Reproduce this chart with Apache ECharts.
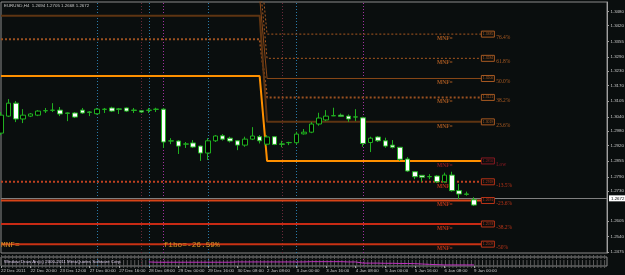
<!DOCTYPE html>
<html>
<head>
<meta charset="utf-8">
<script src="https://cdn.jsdelivr.net/npm/echarts@6/dist/echarts.min.js"></script>
<style>
html, body { margin: 0; padding: 0; background: #0a0e0e; }
#chart { width: 625px; height: 275px; }
</style>
</head>
<body>
<div id="chart"></div>
<script>
// EURUSD H4, one entry per bar
const timeLabels = ['22 Dec 2011', '22 Dec 20:00', '23 Dec 12:00', '27 Dec 00:00', '27 Dec 16:00', '28 Dec 08:00',
  '29 Dec 00:00', '29 Dec 16:00', '30 Dec 08:00', '2 Jan 08:00', '3 Jan 00:00', '3 Jan 16:00', '4 Jan 08:00',
  '5 Jan 00:00', '5 Jan 16:00', '6 Jan 08:00', '9 Jan 00:00']
const opens  = [1.2972, 1.3043, 1.3097, 1.3031, 1.3043, 1.3047, 1.3065, 1.3067, 1.3068, 1.3056, 1.3056, 1.3068, 1.3060,
  1.3053, 1.3071, 1.3077, 1.3073, 1.3077, 1.3068, 1.3065, 1.3067, 1.3071, 1.3072, 1.2939, 1.2939, 1.2926, 1.2931, 1.2918,
  1.2889, 1.2940, 1.2961, 1.2951, 1.2940, 1.2922, 1.2947, 1.2957, 1.2926, 1.2957, 1.2927, 1.2932, 1.2932, 1.2969, 1.2976,
  1.3010, 1.3027, 1.3044, 1.3047, 1.3043, 1.3039, 1.3036, 1.2933, 1.2956, 1.2940, 1.2922, 1.2913, 1.2864, 1.2811, 1.2796,
  1.2790, 1.2793, 1.2769, 1.2797, 1.2732, 1.2718, 1.2694]
const highs  = [1.3060, 1.3114, 1.3106, 1.3072, 1.3056, 1.3068, 1.3077, 1.3097, 1.3081, 1.3058, 1.3060, 1.3077, 1.3064,
  1.3077, 1.3077, 1.3082, 1.3077, 1.3079, 1.3077, 1.3068, 1.3077, 1.3078, 1.3077, 1.2951, 1.2943, 1.2935, 1.2943, 1.2920,
  1.2951, 1.2964, 1.2968, 1.2957, 1.2943, 1.2957, 1.2997, 1.2964, 1.2964, 1.2960, 1.2940, 1.2936, 1.2978, 1.2989, 1.3018,
  1.3057, 1.3068, 1.3078, 1.3054, 1.3050, 1.3072, 1.3040, 1.2957, 1.2960, 1.2953, 1.2943, 1.2914, 1.2872, 1.2814, 1.2797,
  1.2801, 1.2797, 1.2807, 1.2811, 1.2760, 1.2728, 1.2705]
const lows   = [1.2964, 1.3039, 1.3018, 1.3014, 1.3039, 1.3043, 1.3056, 1.3060, 1.3043, 1.3022, 1.3035, 1.3052, 1.3043,
  1.3049, 1.3056, 1.3060, 1.3052, 1.3060, 1.3056, 1.3056, 1.3056, 1.3060, 1.2910, 1.2926, 1.2885, 1.2910, 1.2910, 1.2856,
  1.2860, 1.2935, 1.2941, 1.2933, 1.2901, 1.2915, 1.2943, 1.2929, 1.2918, 1.2922, 1.2913, 1.2922, 1.2925, 1.2966, 1.2972,
  1.3003, 1.3022, 1.3043, 1.3040, 1.3019, 1.3022, 1.2915, 1.2893, 1.2935, 1.2911, 1.2908, 1.2856, 1.2810, 1.2780, 1.2769,
  1.2780, 1.2764, 1.2765, 1.2728, 1.2696, 1.2711, 1.2668]
const closes = [1.3047, 1.3097, 1.3031, 1.3047, 1.3052, 1.3064, 1.3066, 1.3068, 1.3052, 1.3055, 1.3039, 1.3056, 1.3059,
  1.3072, 1.3072, 1.3064, 1.3072, 1.3064, 1.3067, 1.3060, 1.3068, 1.3072, 1.2935, 1.2940, 1.2918, 1.2927, 1.2914, 1.2889,
  1.2940, 1.2960, 1.2947, 1.2939, 1.2922, 1.2947, 1.2960, 1.2940, 1.2956, 1.2925, 1.2926, 1.2933, 1.2968, 1.2976, 1.3010,
  1.3035, 1.3043, 1.3045, 1.3042, 1.3031, 1.3040, 1.2929, 1.2951, 1.2940, 1.2918, 1.2913, 1.2863, 1.2814, 1.2790, 1.2788,
  1.2791, 1.2769, 1.2797, 1.2732, 1.2718, 1.2717, 1.2672]
const lastPrice = 1.2672
const priceTicks = [1.3480, 1.3420, 1.3355, 1.3290, 1.3230, 1.3170, 1.3105, 1.3040, 1.2980, 1.2920, 1.2855, 1.2790,
  1.2730, 1.2605, 1.2540, 1.2475]

// small indicator window under the chart (0..1 scale), null where nothing is drawn
const indValues = [null, null, null, null, null, null, null, null, null, null, null, null, null, null, null, null, null,
  null, null, null, 0.45, 0.42, 0.42, 0.42, 0.42, 0.42, 0.42, 0.42, 0.42, 0.42, 0.42, 0.42, 0.45, 0.45, 0.45, 0.45, 0.45,
  0.45, 0.45, 0.45, 0.45, 0.45, 0.48, 0.48, 0.48, 0.48, 0.48, 0.45, 0.45, 0.32, 0.32, 0.32, 0.30, 0.30, 0.28, 0.28, 0.26,
  0.22, 0.18, 0.15, 0.12, 0.12, 0.12, 0.12, 0.12]

// fibo levels: new level, level before the step (null = no left part)
const fibNames   = ['76.4%', '61.8%', '50.0%', '38.2%', '23.6%', 'Low', '-13.5%', '-23.6%', '-38.2%', '-50%']
const fibPrices  = [1.3385, 1.3284, 1.3200, 1.3121, 1.3019, 1.2856, 1.2769, 1.2691, 1.2593, 1.2509]
const fibPrev    = [1.3705, 1.3614, 1.3537, 1.3364, 1.3462, 1.3210, null, null, null, null]
const fibColors  = ['#a85820', '#a85820', '#8a4818', '#9a5020', '#5e3412', '#ff9000', '#c04020', '#d84418', '#c82a14', '#c83214']
const fibTextCol = ['#a85a22', '#a85a22', '#a85a22', '#a85a22', '#a85a22', '#8a1a22', '#b83418', '#b83418', '#b83418', '#b83418']
const fibDash    = [[2, 2], [2, 2], 'solid', [2, 2], 'solid', 'solid', [2, 2], 'solid', 'solid', 'solid']
const fibWidth   = [1, 1, 1, 2, 2, 2, 2, 2, 2, 2]

// vertical separators: bar index and colour
const sepBars   = [13, 19, 20, 22, 28, 38, 40, 49]
const sepColors = ['#2a7aa8', '#6a2a3a', '#2a7aa8', '#a030a0', '#2a7aa8', '#6a2a3a', '#2a7aa8', '#a030a0']

const totalSlots = 83
const categories = Array.from({ length: totalSlots }, (_, i) => String(i))
const candleData = opens.map((o, i) => [o, closes[i], lows[i], highs[i]])

const stepBar = 35, levelBar = 36, endBar = 64.7

const fibSeries = fibPrices.map((p, i) => {
  const pts = []
  if (fibPrev[i] !== null) {
    pts.push([0, fibPrev[i]], [stepBar, fibPrev[i]])
  } else {
    pts.push([0, p])
  }
  pts.push([levelBar, p], [endBar, p])
  return {
    type: 'line', xAxisIndex: 0, yAxisIndex: 0, data: pts, symbol: 'none', silent: true,
    lineStyle: { color: fibColors[i], width: fibWidth[i], type: fibDash[i] }, z: 1
  }
})

const chart = echarts.init(document.getElementById('chart'), null, { renderer: 'canvas' })

const smallFont = { color: '#c8c8c8', fontSize: 4.4, fontFamily: 'Liberation Sans' }

const option = {
  backgroundColor: '#0a0e0e',
  animation: false,
  grid: [
    { left: 1, right: 18, top: 2, height: 251, show: true, borderColor: '#8a8a8a', borderWidth: 1, outerBoundsMode: 'none', containLabel: false },
    { left: 1, right: 18, top: 257, height: 9, show: true, borderColor: '#8a8a8a', borderWidth: 1, outerBoundsMode: 'none', containLabel: false }
  ],
  xAxis: [
    { type: 'category', gridIndex: 0, data: categories, boundaryGap: false,
      axisLine: { show: false }, axisTick: { show: false }, axisLabel: { show: false }, splitLine: { show: false } },
    { type: 'category', gridIndex: 1, data: categories, boundaryGap: false,
      axisLine: { show: false },
      axisTick: { show: true, length: 2, lineStyle: { color: '#a0a0a0' }, interval: (i) => i % 4 === 0 && i <= 64 },
      axisLabel: {
        ...smallFont, show: true, interval: (i) => i % 4 === 0 && i <= 64, align: 'left', margin: 3, hideOverlap: false,
        formatter: (v, i) => timeLabels[i / 4] || ''
      },
      splitLine: { show: false } }
  ],
  yAxis: [
    { type: 'value', gridIndex: 0, position: 'right', min: 1.2472, max: 1.3519,
      axisLine: { show: true, lineStyle: { color: '#a0a0a0' } },
      axisTick: { show: true, length: 2, customValues: priceTicks, lineStyle: { color: '#a0a0a0' } },
      axisLabel: { ...smallFont, show: true, customValues: priceTicks, margin: 3.5, formatter: (v) => v.toFixed(4) },
      splitLine: { show: false } },
    { type: 'value', gridIndex: 1, min: 0, max: 1, interval: 0.5,
      axisLine: { show: false }, axisTick: { show: false }, axisLabel: { show: false },
      splitLine: { show: true, lineStyle: { color: '#5a5a5a', width: 4, type: [1, 2.7] } } }
  ],
  graphic: [
    { type: 'text', left: 4, top: 4, style: { text: 'EURUSD,H4  1.2694 1.2705 1.2668 1.2672', fill: '#c8c8c8',
      font: '4.4px "Liberation Sans"' } },
    { type: 'text', left: 4, top: 260, z: 10, style: { text: 'Window Draw Arc(c) 2000-2011 MetaQuotes Software Corp.',
      fill: '#d8c8e8', font: '4.4px "Liberation Sans"' } }
  ],
  series: [
    {
      type: 'line', xAxisIndex: 0, yAxisIndex: 0, data: [], silent: true, z: 0,
      markLine: {
        silent: true, symbol: 'none', label: { show: false }, z: 0,
        data: sepBars.map((b, i) => ({ xAxis: b, lineStyle: { color: sepColors[i], type: [1, 2], width: 1 } }))
      }
    },
    {
      type: 'line', xAxisIndex: 1, yAxisIndex: 1, data: [], silent: true, z: 0,
      markLine: {
        silent: true, symbol: 'none', label: { show: false }, z: 0,
        data: sepBars.map((b, i) => ({ xAxis: b, lineStyle: { color: sepColors[i], type: [1, 2], width: 1 } }))
      }
    },
    {
      type: 'line', xAxisIndex: 1, yAxisIndex: 1, data: indValues, symbol: 'none', silent: true, z: 5,
      lineStyle: { color: '#c030c0', width: 1 }
    },
    ...fibSeries,
    {
      type: 'candlestick', xAxisIndex: 0, yAxisIndex: 0, data: candleData, barWidth: 5, z: 6,
      itemStyle: { color: '#000000', color0: '#ffffff', borderColor: '#20b020', borderColor0: '#20b020', borderWidth: 1 },
      markLine: {
        silent: true, symbol: 'none', animation: false, z: 2,
        data: [{ yAxis: lastPrice }],
        lineStyle: { color: '#808080', width: 1, type: 'solid' },
        label: { show: true, position: 'end', formatter: lastPrice.toFixed(4), color: '#000', backgroundColor: '#fff',
          fontSize: 4.4, fontFamily: 'Liberation Sans', padding: [1, 2], distance: 2 }
      }
    },
    {
      type: 'custom', xAxisIndex: 0, yAxisIndex: 0, silent: true, z: 4,
      data: fibPrices.map((p, i) => [i, p]),
      renderItem: (params, api) => {
        const i = params.dataIndex
        const p = api.value(1)
        const mnf = api.coord([58.9, p])
        const box = api.coord([64.7, p])
        const pct = api.coord([67.1, p])
        const tc = fibTextCol[i]
        return {
          type: 'group',
          children: [
            { type: 'text', x: mnf[0], y: mnf[1] + 1.5, style: { text: 'MNF=', fill: tc, font: 'bold 5.5px "Liberation Serif"' } },
            { type: 'rect', shape: { x: box[0], y: box[1] - 3, width: 13, height: 6 },
              style: { fill: '#0a0e0e', stroke: tc, lineWidth: 1 } },
            { type: 'text', x: box[0] + 1.5, y: box[1] - 1.5, style: { text: p.toFixed(4), fill: tc, font: '3.4px "Liberation Sans"' } },
            { type: 'text', x: pct[0], y: pct[1] + 0.5, style: { text: fibNames[i], fill: tc, font: '5.5px "Liberation Serif"' } }
          ]
        }
      }
    },
    {
      type: 'custom', xAxisIndex: 0, yAxisIndex: 0, silent: true, z: 4,
      data: [[0.2, fibPrices[9]], [22.1, fibPrices[9]]],
      renderItem: (params, api) => {
        const texts = ['MNF=', 'fibo=-26.59%']
        const c = api.coord([api.value(0), api.value(1)])
        return { type: 'text', x: c[0], y: c[1] - 3.5, style: { text: texts[params.dataIndex], fill: '#d89428', font: '7.8px "Liberation Mono"' } }
      }
    }
  ]
}

chart.setOption(option)
</script>
</body>
</html>
